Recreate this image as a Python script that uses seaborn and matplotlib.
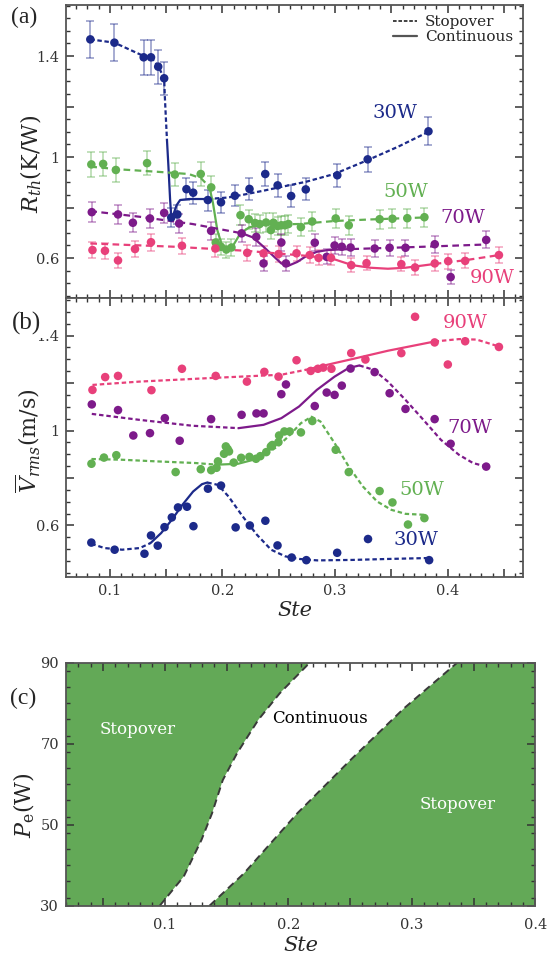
import numpy as np
import pandas as pd
import seaborn as sns
import matplotlib.pyplot as plt
from matplotlib.lines import Line2D
from matplotlib.ticker import MultipleLocator, FixedLocator, FixedFormatter

sns.set_style('ticks')
plt.rcParams['font.family'] = ['DejaVu Serif']
plt.rcParams['mathtext.fontset'] = 'dejavuserif'
plt.rcParams.update({
    'xtick.direction': 'in', 'ytick.direction': 'in',
    'xtick.top': True, 'ytick.right': True,
    'xtick.major.size': 6, 'ytick.major.size': 6,
    'xtick.minor.size': 3, 'ytick.minor.size': 3,
    'xtick.color': '#333333', 'ytick.color': '#333333',
    'axes.axisbelow': False,
})

# colours
C30 = '#1c2a8a'
C50 = '#62b052'
C70 = '#7d1a8a'
C90 = '#e8407a'
GREEN = '#63a957'

REL_ERR = 0.05  # error bars in (a) are about +-5 % of the value

# ---------------- panel (a): thermal resistance ----------------
a30_ste = [0.0826, 0.104, 0.130, 0.1365, 0.1429, 0.1482, 0.1545, 0.160, 0.168, 0.174, 0.187,
           0.1987, 0.211, 0.224, 0.238, 0.249, 0.261, 0.274, 0.302, 0.329, 0.383]
a30_rth = [1.466, 1.453, 1.395, 1.395, 1.358, 1.312, 0.761, 0.773, 0.873, 0.859, 0.830,
           0.821, 0.847, 0.874, 0.933, 0.888, 0.846, 0.872, 0.928, 0.991, 1.102]
a50_ste = [0.0835, 0.094, 0.1053, 0.133, 0.1577, 0.1807, 0.190, 0.194, 0.1987, 0.2034, 0.208,
           0.216, 0.2233, 0.229, 0.233, 0.2387, 0.243, 0.2453, 0.249, 0.2523, 0.2555, 0.2586,
           0.2697, 0.2797, 0.3006, 0.3122, 0.3396, 0.351, 0.3642, 0.3794]
a50_rth = [0.971, 0.973, 0.949, 0.976, 0.931, 0.933, 0.880, 0.662, 0.645, 0.634, 0.642,
           0.770, 0.754, 0.739, 0.735, 0.741, 0.711, 0.740, 0.727, 0.730, 0.730, 0.735,
           0.723, 0.745, 0.757, 0.730, 0.754, 0.756, 0.758, 0.762]
a70_ste = [0.0839, 0.1072, 0.1204, 0.1356, 0.1482, 0.1615, 0.1899, 0.217, 0.230, 0.2365, 0.2523,
           0.2564, 0.282, 0.2926, 0.2996, 0.306, 0.3138, 0.3352, 0.3485, 0.3626, 0.3886, 0.4027, 0.4343]
a70_rth = [0.782, 0.773, 0.740, 0.757, 0.779, 0.737, 0.708, 0.698, 0.684, 0.579, 0.662,
           0.579, 0.661, 0.605, 0.650, 0.645, 0.642, 0.638, 0.641, 0.641, 0.655, 0.525, 0.672]
a90_ste = [0.0845, 0.0956, 0.1072, 0.1223, 0.1365, 0.164, 0.1937, 0.222, 0.2365, 0.2498, 0.2658,
           0.2775, 0.2854, 0.2964, 0.3144, 0.328, 0.3589, 0.3711, 0.3886, 0.4005, 0.4156, 0.4456]
a90_rth = [0.632, 0.629, 0.591, 0.636, 0.663, 0.649, 0.638, 0.621, 0.619, 0.616, 0.619,
           0.612, 0.601, 0.601, 0.572, 0.580, 0.576, 0.563, 0.579, 0.588, 0.589, 0.612]

# fitted curves (a), with the Ste range drawn as "Continuous"
a30_fit_x = [0.0826, 0.104, 0.130, 0.1365, 0.1429, 0.1482, 0.1488, 0.1498, 0.1507, 0.152, 0.1535,
             0.1545, 0.1567, 0.1593, 0.1624, 0.1703, 0.187, 0.205, 0.2208, 0.2365, 0.2523, 0.274,
             0.2993, 0.329, 0.356, 0.383]
a30_fit_y = [1.466, 1.453, 1.400, 1.395, 1.360, 1.312, 1.239, 1.147, 1.067, 0.962, 0.830,
             0.764, 0.777, 0.810, 0.830, 0.834, 0.834, 0.840, 0.853, 0.867, 0.882, 0.902,
             0.933, 0.988, 1.041, 1.100]
a30_cont = (0.1507, 0.187)
a50_fit_x = [0.0826, 0.110, 0.1415, 0.170, 0.181, 0.1884, 0.1916, 0.1954, 0.1995, 0.2042, 0.2096,
             0.2159, 0.2238, 0.2333, 0.2427, 0.268, 0.2996, 0.331, 0.3794]
a50_fit_y = [0.962, 0.951, 0.942, 0.933, 0.916, 0.882, 0.817, 0.711, 0.651, 0.634, 0.651,
             0.698, 0.722, 0.731, 0.733, 0.735, 0.747, 0.753, 0.761]
a50_cont = (0.1884, 0.2427)
a70_fit_x = [0.0826, 0.126, 0.1734, 0.2176, 0.227, 0.2365, 0.246, 0.2523, 0.2586, 0.2665, 0.2744,
             0.2839, 0.2933, 0.3028, 0.3154, 0.3785, 0.4343]
a70_fit_y = [0.786, 0.764, 0.735, 0.698, 0.682, 0.645, 0.605, 0.579, 0.570, 0.585, 0.608,
             0.625, 0.632, 0.634, 0.636, 0.645, 0.654]
a70_cont = (0.2176, 0.3154)
a90_fit_x = [0.0826, 0.1577, 0.2208, 0.2775, 0.2996, 0.3154, 0.3312, 0.347, 0.3627, 0.3784,
             0.3885, 0.4162, 0.4456]
a90_fit_y = [0.658, 0.645, 0.629, 0.608, 0.595, 0.572, 0.562, 0.558, 0.562, 0.571,
             0.577, 0.592, 0.612]
a90_cont = (0.2775, 0.3885)

# ---------------- panel (b): mean rms velocity ----------------
b30_ste = [0.0835, 0.1042, 0.1307, 0.1365, 0.1425, 0.1485, 0.155, 0.1605, 0.1685, 0.1742, 0.1871,
           0.1987, 0.2117, 0.2243, 0.2381, 0.2489, 0.2615, 0.2745, 0.3019, 0.3293, 0.3836]
b30_v = [0.528, 0.498, 0.481, 0.558, 0.515, 0.593, 0.634, 0.676, 0.679, 0.597, 0.755,
         0.768, 0.592, 0.600, 0.620, 0.516, 0.465, 0.454, 0.485, 0.543, 0.454]
b50_ste = [0.0836, 0.0947, 0.1057, 0.1584, 0.1807, 0.190, 0.1947, 0.196, 0.2014, 0.203, 0.2046,
           0.2058, 0.21, 0.2166, 0.2239, 0.2298, 0.2336, 0.2389, 0.243, 0.2443, 0.2497, 0.2503,
           0.255, 0.2597, 0.2697, 0.2798, 0.3006, 0.3122, 0.3396, 0.351, 0.3648, 0.3794]
b50_v = [0.860, 0.886, 0.896, 0.825, 0.837, 0.833, 0.843, 0.870, 0.902, 0.933, 0.922,
         0.912, 0.865, 0.885, 0.889, 0.881, 0.892, 0.909, 0.933, 0.939, 0.951, 0.979,
         0.996, 0.996, 0.992, 1.040, 0.919, 0.825, 0.745, 0.697, 0.604, 0.631]
b70_ste = [0.0839, 0.1072, 0.1208, 0.1356, 0.1488, 0.162, 0.1899, 0.217, 0.2302, 0.2365, 0.2523,
           0.2564, 0.282, 0.2926, 0.2996, 0.306, 0.3138, 0.3352, 0.3485, 0.3626, 0.3885, 0.4027, 0.4343]
b70_v = [1.110, 1.086, 0.979, 0.989, 1.052, 0.957, 1.048, 1.066, 1.072, 1.072, 1.153,
         1.194, 1.103, 1.160, 1.150, 1.189, 1.261, 1.246, 1.157, 1.091, 1.048, 0.944, 0.848]
b90_ste = [0.0845, 0.0958, 0.1072, 0.1369, 0.164, 0.194, 0.2217, 0.2372, 0.2498, 0.2658, 0.2784,
           0.2848, 0.2895, 0.2968, 0.3144, 0.327, 0.3589, 0.3711, 0.3885, 0.4002, 0.4156, 0.4456]
b90_v = [1.171, 1.225, 1.230, 1.170, 1.260, 1.230, 1.206, 1.247, 1.227, 1.296, 1.251,
         1.260, 1.265, 1.260, 1.326, 1.299, 1.326, 1.479, 1.371, 1.278, 1.376, 1.352]

b30_fit_x = [0.0835, 0.0951, 0.1109, 0.1266, 0.1361, 0.1455, 0.155, 0.1644, 0.1739, 0.1818, 0.1865,
             0.196, 0.2054, 0.218, 0.2306, 0.2432, 0.2558, 0.2684, 0.2842, 0.3157, 0.347, 0.3836]
b30_fit_y = [0.523, 0.505, 0.498, 0.505, 0.526, 0.568, 0.624, 0.687, 0.743, 0.774, 0.781,
             0.771, 0.722, 0.638, 0.561, 0.498, 0.470, 0.459, 0.453, 0.455, 0.459, 0.463]
b30_cont = (0.1361, 0.1865)
b50_fit_x = [0.0836, 0.110, 0.1415, 0.1762, 0.195, 0.2139, 0.2333, 0.249, 0.2586, 0.2697, 0.2791,
             0.287, 0.2996, 0.3122, 0.3248, 0.3374, 0.35, 0.3626, 0.3794]
b50_fit_y = [0.880, 0.877, 0.870, 0.863, 0.856, 0.860, 0.884, 0.933, 0.975, 1.031, 1.058,
             1.038, 0.947, 0.848, 0.764, 0.701, 0.666, 0.649, 0.645]
b50_cont = (0.195, 0.2333)
b70_fit_x = [0.0839, 0.1261, 0.1734, 0.2144, 0.2365, 0.2523, 0.268, 0.2838, 0.2996, 0.312, 0.3216,
             0.3342, 0.347, 0.3626, 0.3785, 0.394, 0.41, 0.4226, 0.4343]
b70_fit_y = [1.070, 1.045, 1.020, 1.010, 1.024, 1.052, 1.101, 1.171, 1.227, 1.263, 1.274,
             1.256, 1.206, 1.129, 1.045, 0.961, 0.898, 0.863, 0.848]
b70_cont = (0.2144, 0.3216)
b90_fit_x = [0.0845, 0.1261, 0.1892, 0.2523, 0.2744, 0.2996, 0.3154, 0.347, 0.3885, 0.41, 0.4258, 0.4456]
b90_fit_y = [1.192, 1.206, 1.221, 1.235, 1.256, 1.284, 1.301, 1.336, 1.375, 1.385, 1.383, 1.354]
b90_cont = (0.2744, 0.3885)

# ---------------- panel (c): regime map ----------------
c_left_ste = [0.0959, 0.1153, 0.1296, 0.1382, 0.1469, 0.1584, 0.1757, 0.1929, 0.2173]
c_left_pe = [30, 37.2, 46.2, 52.8, 61, 67.6, 75.9, 82.4, 90]
c_right_ste = [0.1362, 0.1641, 0.2072, 0.2504, 0.2935, 0.3367]
c_right_pe = [30, 38, 52.8, 66, 78.7, 90]


def draw_fit(ax, xs, ys, cont, color, dash):
    x = np.array(xs)
    y = np.array(ys)
    lo, hi = cont
    parts = [(x <= lo, dash), ((x >= lo) & (x <= hi), '-'), (x >= hi, dash)]
    for m, ls in parts:
        if m.sum() > 1:
            sns.lineplot(x=x[m], y=y[m], ax=ax, color=color, lw=1.6, linestyle=ls,
                         sort=False, estimator=None, zorder=2)


def style_axes(ax):
    ax.set_axisbelow(False)
    ax.tick_params(which='both', direction='in', top=True, right=True, bottom=True, left=True,
                   color='#333333', labelsize=10.5, pad=5)
    ax.tick_params(which='major', length=6, width=1.1)
    ax.tick_params(which='minor', length=3, width=1.0)
    ax.xaxis.set_zorder(4)
    ax.yaxis.set_zorder(4)
    for sp in ax.spines.values():
        sp.set_color('#555555')
        sp.set_linewidth(1.3)
        sp.set_zorder(5)


fig = plt.figure(figsize=(5.51, 9.67), dpi=100)
rect_c = [0.1198, 0.0634, 0.8519, 0.2513]
ax_a = fig.add_axes([0.1198, 0.6918, 0.8294, 0.3030])
ax_b = fig.add_axes([0.1198, 0.4033, 0.8294, 0.2885])
ax_c = fig.add_axes(rect_c)

# ---- (a)
series_a = [(a30_ste, a30_rth, a30_fit_x, a30_fit_y, a30_cont, C30, (0, (2, 1.2))),
            (a50_ste, a50_rth, a50_fit_x, a50_fit_y, a50_cont, C50, (0, (3, 2))),
            (a70_ste, a70_rth, a70_fit_x, a70_fit_y, a70_cont, C70, (0, (3, 2))),
            (a90_ste, a90_rth, a90_fit_x, a90_fit_y, a90_cont, C90, (0, (3, 2)))]
for sx, sy, fx, fy, cont, col, dash in series_a:
    sy_arr = np.array(sy)
    ax_a.errorbar(sx, sy, yerr=sy_arr * REL_ERR, fmt='none', ecolor=col, alpha=0.45,
                  capsize=3, elinewidth=1.2, capthick=1.2, zorder=1)
    draw_fit(ax_a, fx, fy, cont, col, dash)
    sns.scatterplot(x=sx, y=sy, ax=ax_a, color=col, s=38, edgecolor='none', zorder=3)

ax_a.set_xlim(0.061, 0.467)
ax_a.set_ylim(0.442, 1.602)
ax_a.xaxis.set_major_locator(MultipleLocator(0.05))
ax_a.xaxis.set_minor_locator(MultipleLocator(0.01))
ax_a.yaxis.set_major_locator(FixedLocator([0.6, 0.8, 1.0, 1.2, 1.4]))
ax_a.yaxis.set_major_formatter(FixedFormatter(['0.6', '', '1', '', '1.4']))
ax_a.yaxis.set_minor_locator(MultipleLocator(0.05))
style_axes(ax_a)
ax_a.tick_params(labelbottom=False)
ax_a.set_xlabel('')
ax_a.set_ylabel(r'$R_{th}$(K/W)', fontsize=16)
ax_a.yaxis.set_label_coords(-0.048, 0.46)

for txt, x, y, col in [('30W', 0.353, 1.173, C30), ('50W', 0.363, 0.863, C50),
                       ('70W', 0.4135, 0.757, C70), ('90W', 0.440, 0.520, C90)]:
    ax_a.text(x, y, txt, color=col, fontsize=14, ha='center', va='center')

handles = [Line2D([], [], color='#333333', lw=1.3, ls=(0, (2, 1))),
           Line2D([], [], color='#555555', lw=1.6, ls='-')]
ax_a.legend(handles, ['Stopover', 'Continuous'], loc='upper right', frameon=False,
            fontsize=11, handlelength=1.6, handletextpad=0.5, labelspacing=0.1,
            borderaxespad=0.25)

# ---- (b)
series_b = [(b30_ste, b30_v, b30_fit_x, b30_fit_y, b30_cont, C30),
            (b50_ste, b50_v, b50_fit_x, b50_fit_y, b50_cont, C50),
            (b70_ste, b70_v, b70_fit_x, b70_fit_y, b70_cont, C70),
            (b90_ste, b90_v, b90_fit_x, b90_fit_y, b90_cont, C90)]
for sx, sy, fx, fy, cont, col in series_b:
    draw_fit(ax_b, fx, fy, cont, col, (0, (2, 1.3)))
    sns.scatterplot(x=sx, y=sy, ax=ax_b, color=col, s=38, edgecolor='none', zorder=3)

ax_b.set_xlim(0.061, 0.467)
ax_b.set_ylim(0.383, 1.558)
ax_b.xaxis.set_major_locator(FixedLocator([0.05, 0.1, 0.15, 0.2, 0.25, 0.3, 0.35, 0.4, 0.45]))
ax_b.xaxis.set_major_formatter(FixedFormatter(['', '0.1', '', '0.2', '', '0.3', '', '0.4', '']))
ax_b.xaxis.set_minor_locator(MultipleLocator(0.01))
ax_b.yaxis.set_major_locator(FixedLocator([0.6, 0.8, 1.0, 1.2, 1.4]))
ax_b.yaxis.set_major_formatter(FixedFormatter(['0.6', '', '1', '', '1.4']))
ax_b.yaxis.set_minor_locator(MultipleLocator(0.05))
style_axes(ax_b)
ax_b.set_xlabel('Ste', fontsize=15, style='italic', labelpad=2)
ax_b.set_ylabel(r'$\overline{V}_{rms}$(m/s)', fontsize=16)
ax_b.yaxis.set_label_coords(-0.053, 0.49)

for txt, x, y, col in [('90W', 0.4152, 1.452, C90), ('70W', 0.420, 1.010, C70),
                       ('50W', 0.3767, 0.750, C50), ('30W', 0.372, 0.540, C30)]:
    ax_b.text(x, y, txt, color=col, fontsize=14, ha='center', va='center')

# ---- (c): regions drawn on ax_c, frame/ticks on a transparent axes on top
ax_c.set_xlim(0.02, 0.40)
ax_c.set_ylim(30, 90)
ax_c.axvspan(0.02, 0.40, color=GREEN, lw=0, zorder=0)
poly_x = np.concatenate([c_left_ste, c_right_ste[::-1]])
poly_y = np.concatenate([c_left_pe, c_right_pe[::-1]])
ax_c.fill(poly_x, poly_y, color='white', lw=0, zorder=1)
for bx, by in [(c_left_ste, c_left_pe), (c_right_ste, c_right_pe)]:
    sns.lineplot(x=bx, y=by, ax=ax_c, color='#3a3a3a', lw=1.4, linestyle=(0, (4, 2.5)),
                 sort=False, estimator=None, zorder=2)
ax_c.text(0.078, 73.4, 'Stopover', color='white', fontsize=12, ha='center', va='center')
ax_c.text(0.226, 76.1, 'Continuous', color='black', fontsize=12, ha='center', va='center')
ax_c.text(0.337, 55.0, 'Stopover', color='white', fontsize=12, ha='center', va='center')
ax_c.set_axis_off()

ax_cf = fig.add_axes(rect_c)
ax_cf.set_zorder(ax_c.get_zorder() + 1)
ax_cf.patch.set_visible(False)
ax_cf.set_xlim(0.02, 0.40)
ax_cf.set_ylim(30, 90)
ax_cf.xaxis.set_major_locator(FixedLocator([0.05, 0.1, 0.15, 0.2, 0.25, 0.3, 0.35, 0.4]))
ax_cf.xaxis.set_major_formatter(FixedFormatter(['', '0.1', '', '0.2', '', '0.3', '', '0.4']))
ax_cf.xaxis.set_minor_locator(MultipleLocator(0.01))
ax_cf.yaxis.set_major_locator(FixedLocator([30, 50, 70, 90]))
ax_cf.yaxis.set_minor_locator(MultipleLocator(4))
style_axes(ax_cf)
ax_cf.tick_params(axis='x', which='major', pad=9)
ax_cf.set_xlabel('Ste', fontsize=15, style='italic', labelpad=3)
ax_cf.set_ylabel(r'$P_{\mathrm{e}}$(W)', fontsize=16)
ax_cf.yaxis.set_label_coords(-0.062, 0.414)

# panel letters
fig.text(24 / 551, 1 - 17 / 967, '(a)', family='Liberation Serif', fontsize=17,
         ha='center', va='center')
fig.text(26.5 / 551, 1 - 323 / 967, '(b)', family='Liberation Serif', fontsize=18,
         ha='center', va='center', bbox=dict(facecolor='white', edgecolor='none', pad=2.5))
fig.text(23 / 551, 1 - 698 / 967, '(c)', family='Liberation Serif', fontsize=17,
         ha='center', va='center')

fig.savefig('out.png', dpi=100)
